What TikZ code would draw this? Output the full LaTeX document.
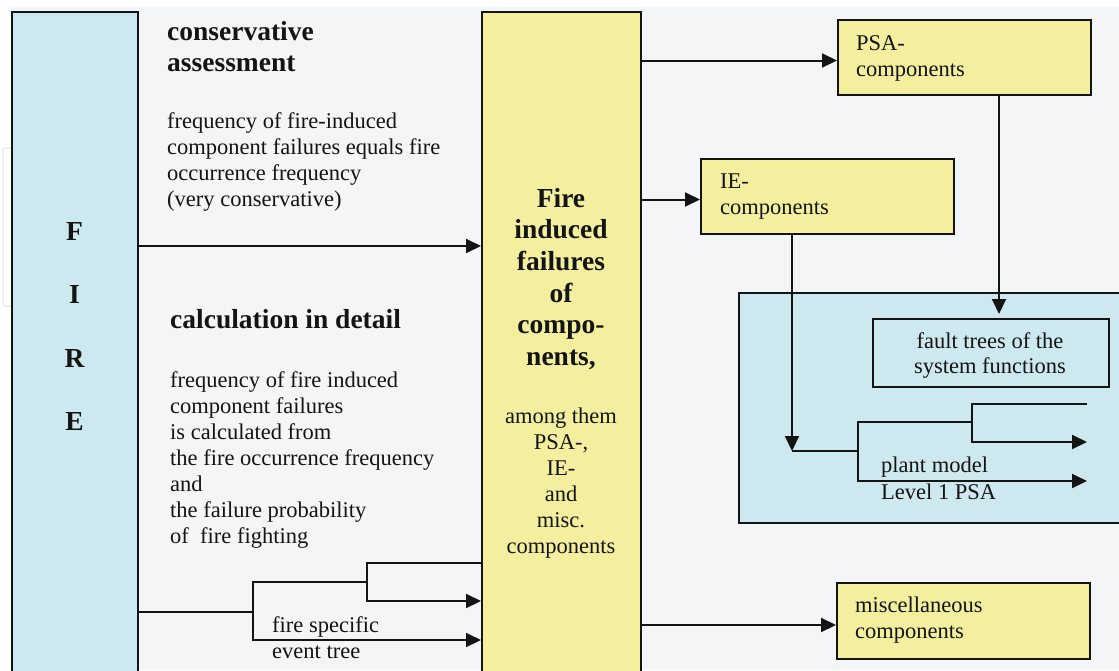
\documentclass[tikz,border=0pt]{standalone}
\usepackage{fontspec}
\setmainfont{Liberation Serif}
\usetikzlibrary{arrows.meta}
\definecolor{bgc}{HTML}{F4F5F7}
\definecolor{firec}{HTML}{CDE8EF}
\definecolor{yel}{HTML}{F4EF9E}
\definecolor{ink}{HTML}{141414}
\begin{document}
\begin{tikzpicture}[x=1pt,y=-1pt,
  conn/.style={line width=2pt, draw=ink},
  arr/.style={conn, -{Triangle[length=15pt,width=14pt]}},
  box/.style={draw=ink, line width=2pt, inner sep=0pt, anchor=north west},
  body/.style={font=\fontsize{22.5}{26}\selectfont, text=ink, inner sep=0pt, anchor=base west},
  bodyc/.style={body, anchor=base},
  head/.style={font=\fontsize{27.5}{32}\selectfont\bfseries, text=ink, inner sep=0pt, anchor=base west},
  headc/.style={head, anchor=base}]
\useasboundingbox (0,0) rectangle (1119,670);
\clip (0,0) rectangle (1119,670);
% canvas
\fill[white] (0,0) rectangle (1119,670);
\fill[bgc] (11,7) rectangle (1119,670);
\draw[black!10, line width=1pt, rounded corners=2pt] (11,148) -- (3,148) -- (3,306) -- (11,306);

% boxes
\node[box, fill=firec, minimum width=126pt, minimum height=680pt] (fire) at (11,11) {};
\node[box, fill=yel, minimum width=159pt, minimum height=680pt] (cent) at (481,11) {};
\node[box, fill=yel, minimum width=253pt, minimum height=75pt] (psa) at (837,19) {};
\node[box, fill=yel, minimum width=253pt, minimum height=75pt] (ie) at (700,158) {};
\node[box, fill=yel, minimum width=253pt, minimum height=76pt] (misc) at (836,582) {};
\node[box, fill=firec, minimum width=400pt, minimum height=230pt] (plant) at (738,292) {};
\node[box, fill=firec, minimum width=236pt, minimum height=68pt] (ft) at (872,318) {};

% FIRE column
\node[headc] (lF) at (74.5,240) {F};
\node[headc] (lI) at (74.5,303) {I};
\node[headc] (lR) at (74.5,367) {R};
\node[headc] (lE) at (74.5,430) {E};

% conservative assessment
\node[head] (h1a) at (167,40) {conservative};
\node[head] (h1b) at (167,71) {assessment};
\node[body] (c1) at (167,128) {frequency of fire-induced};
\node[body] (c2) at (167,154) {component failures equals fire};
\node[body] (c3) at (167,180) {occurrence frequency};
\node[body] (c4) at (167,206) {(very conservative)};

% calculation in detail
\node[head] (h2) at (170,328) {calculation in detail};
\node[body] (d1) at (170,387) {frequency of fire induced};
\node[body] (d2) at (170,413) {component failures};
\node[body] (d3) at (170,439) {is calculated from};
\node[body] (d4) at (170,465) {the fire occurrence frequency};
\node[body] (d5) at (170,491) {and};
\node[body] (d6) at (170,517) {the failure probability};
\node[body] (d7) at (170,543) {of\ \ fire fighting};

% event tree labels
\node[body] (et1) at (272,632) {fire specific};
\node[body] (et2) at (272,658) {event tree};

% central column
\node[headc] (m1) at (561,207) {Fire};
\node[headc] (m2) at (561,238) {induced};
\node[headc] (m3) at (561,270) {failures};
\node[headc] (m4) at (561,302) {of};
\node[headc] (m5) at (561,333) {compo-};
\node[headc] (m6) at (561,365) {nents,};
\node[bodyc] (n1) at (561,423) {among them};
\node[bodyc] (n2) at (561,449) {PSA-,};
\node[bodyc] (n3) at (561,475) {IE-};
\node[bodyc] (n4) at (561,501) {and};
\node[bodyc] (n5) at (561,527) {misc.};
\node[bodyc] (n6) at (561,553) {components};

% right boxes texts
\node[body] (psa1) at (856,50) {PSA-};
\node[body] (psa2) at (856,76) {components};
\node[body] (ie1) at (720,188) {IE-};
\node[body] (ie2) at (720,214) {components};
\node[body] (mi1) at (855,612) {miscellaneous};
\node[body] (mi2) at (855,638) {components};
\node[bodyc] (ft1) at (990,348) {fault trees of the};
\node[bodyc] (ft2) at (990,373) {system functions};
\node[body] (pl1) at (881,472) {plant model};
\node[body] (pl2) at (881,499) {Level 1 PSA};

% main flow
\coordinate (fa) at (137,246);
\draw[arr] (fa) -- (cent.west |- fa);
\coordinate (pa) at ([yshift=-3pt]psa.west);
\draw[arr] (cent.east |- pa) -- (pa);
\coordinate (ia) at ([yshift=-3pt]ie.west);
\draw[arr] (cent.east |- ia) -- (ia);
\coordinate (ma) at ([yshift=-4pt]misc.west);
\draw[arr] (cent.east |- ma) -- (ma);

% fire specific event tree
\coordinate (e0) at (137,612);
\coordinate (e1) at (253,612);
\coordinate (e1a) at (253,582);
\coordinate (e1b) at (253,640);
\coordinate (e2) at (367,582);
\coordinate (e2a) at (367,563);
\coordinate (e2b) at (367,601);
\draw[conn] (e0) -- (e1);
\draw[arr] (e2a -| cent.west) -- (e2a) -- (e2b) -- (e2b -| cent.west);
\draw[arr] (e2) -- (e1a) -- (e1b) -- (e1b -| cent.west);

% into the plant model
\coordinate (q) at (999,314);
\draw[arr] (psa.south -| q) -- (q);
\coordinate (p0) at (792,451);
\draw[arr] (ie.south -| p0) -- (p0);
\coordinate (p1) at (858,451);
\coordinate (p1a) at (858,422);
\coordinate (p1b) at (858,481);
\coordinate (p2) at (972,422);
\coordinate (p2a) at (972,404);
\coordinate (p2b) at (972,442);
\coordinate (pend) at (1087,0);
\draw[conn] (p0) -- (p1);
\draw[arr] (p2) -- (p1a) -- (p1b) -- (p1b -| pend);
\draw[arr] (p2a -| pend) -- (p2a) -- (p2b) -- (p2b -| pend);
\end{tikzpicture}
\end{document}
